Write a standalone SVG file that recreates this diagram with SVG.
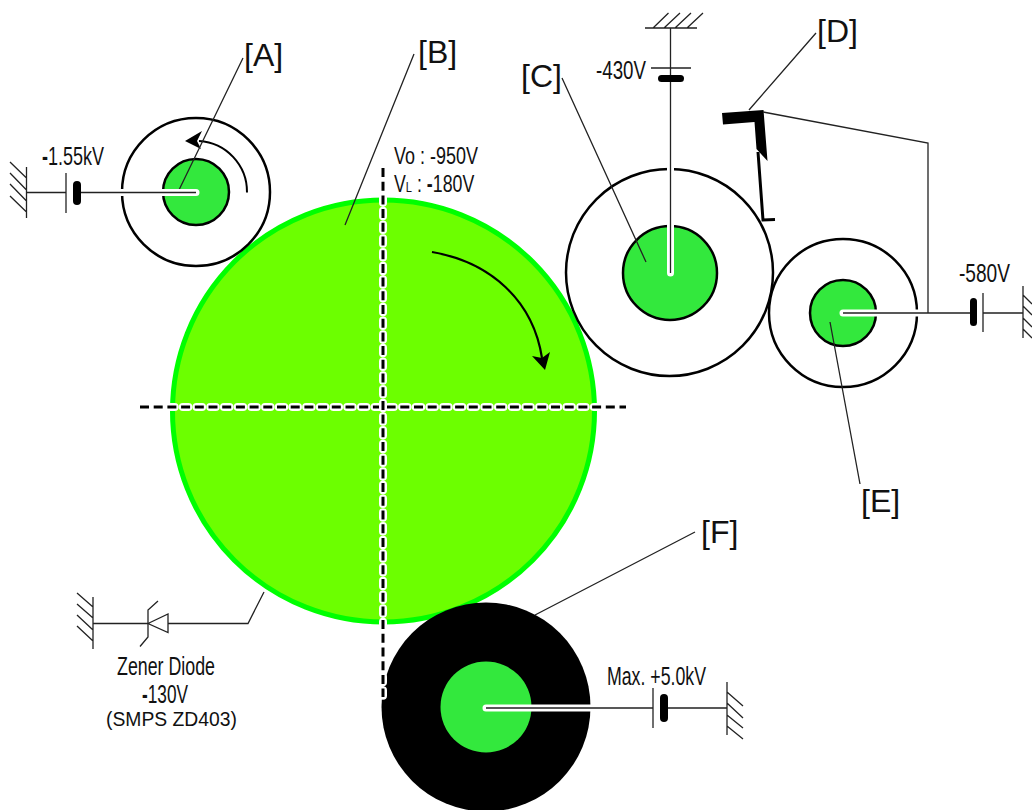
<svg xmlns="http://www.w3.org/2000/svg" width="1032" height="810" viewBox="0 0 1032 810">
<style>
text{font-family:"Liberation Sans",Arial,sans-serif;fill:#111}
.lab{font-size:32px}
.v{font-size:25px}
.b{font-weight:bold}
.ring{fill:#fff;stroke:#000;stroke-width:2.5}
.core{fill:#33e83d;stroke:#000;stroke-width:2.5}
.thin{fill:none;stroke:#222;stroke-width:1.3}
.stem{fill:none;stroke:#fff;stroke-width:7;stroke-linecap:round}
.pill{fill:#000}
.dashW{fill:none;stroke:#fff;stroke-width:8;stroke-linecap:round;stroke-dasharray:5.500 8.200;stroke-dashoffset:-1.750}
.dashK{fill:none;stroke:#000;stroke-width:3;stroke-dasharray:9 4.700}
</style>
<rect width="1032" height="810" fill="#fff"/>
<g id="drum-B">
<circle cx="383.500" cy="411" r="211" fill="#6cff00" stroke="#00ff00" stroke-width="5"/>
<path d="M432 252C490 262 533 300 542 358" fill="none" stroke="#000" stroke-width="2.200"/>
<path d="M545 370L532 356L542 358L550 352Z" fill="#000"/>
</g>
<g id="roller-A">
<circle class="ring" cx="196" cy="192" r="74"/>
<circle class="core" cx="196" cy="192" r="33"/>
<path d="M247 192.500A51 51 0 0 0 199 141" fill="none" stroke="#000" stroke-width="2"/>
<path d="M185 141L202 131L197 141L201 149Z" fill="#000"/>
</g>
<g id="roller-C">
<circle class="ring" cx="669.500" cy="272.500" r="103.500"/>
<circle class="core" cx="670" cy="273" r="47"/>
</g>
<g id="roller-E">
<circle class="ring" cx="843" cy="313" r="74"/>
<circle class="core" cx="843" cy="313" r="33"/>
</g>
<g id="roller-F">
<circle cx="486" cy="707" r="104.500" fill="#000"/>
<circle cx="486" cy="707" r="45.500" fill="#33e83d"/>
</g>
<g id="blade-D">
<path d="M722 113L763.500 110L767.500 161L756.500 149L754.500 122L723 124.500Z" fill="#000"/>
<path d="M758 152L763 220L775 219.500" fill="none" stroke="#000" stroke-width="3"/>
</g>
<g id="connectors">
<path class="dashW" d="M140 407H626"/><path class="dashK" d="M140 407H626"/>
<path class="dashW" d="M383 168V697"/><path class="dashK" d="M383 168V697"/>
<path class="thin" d="M243 58L178 192M414 54L345 225M562 78L646 262M816 33L749 110M860 484L830 322M695 532L535 615"/>
<path class="thin" d="M763 112L928 143V313"/>
<path class="stem" d="M118 192.500H196M670.500 165V273M843 313H921M486 708H592"/>
<path class="thin" d="M26 192.500H66M81 192.500H196"/>
<path class="thin" d="M66 173V213"/>
<rect class="pill" x="73" y="181" width="8" height="24" rx="4"/>
<path class="thin" d="M26.500 167V218M10 162L26.500 178M10 173L26.500 190M10 184L26.500 201M10 196L26.500 212"/>
<path class="thin" d="M670.500 28V273M645 28H697M653 28L668.500 13M664 28L680 13M675 28L691 13M687 28L703 13M651 68H691"/>
<rect class="pill" x="658" y="75" width="26" height="7" rx="3.500"/>
<path class="thin" d="M843 313H970M983 313H1023M983 293V332M1023 286V338M1023 295L1032 304M1023 306L1032 315M1023 318L1032 327M1023 329L1032 338"/>
<rect class="pill" x="970" y="298" width="7" height="28" rx="3.500"/>
<path class="thin" d="M486 708H653M668 708H727M653 688V728M727 682V735M727 692L743 706M727 703L743 718M727 715L743 728M727 726L743 739"/>
<rect class="pill" x="660" y="694" width="8" height="28" rx="4"/>
<path class="thin" d="M264 592L248 623.500H168M148 623.500H93M93 597V649M77 593L93 607M77 604L93 618M77 615L93 630M77 626L93 641"/>
<path class="thin" d="M148 623.500L168 614V632.500Z"/>
<path class="thin" d="M158 601L148 610V637L140 646.500"/>
</g>
<g id="labels">
<text class="lab" x="244" y="66">[A]</text>
<text class="lab" x="418" y="63">[B]</text>
<text class="lab" x="521" y="87">[C]</text>
<text class="lab" x="817" y="42">[D]</text>
<text class="lab" x="861" y="512">[E]</text>
<text class="lab" x="701" y="543">[F]</text>
<text class="v" transform="translate(42 165) scale(.72 1)"><tspan class="b">-</tspan>1.55kV</text>
<text class="v" x="596" y="79" textLength="50" lengthAdjust="spacingAndGlyphs">-430V</text>
<text class="v" x="959" y="282" textLength="51" lengthAdjust="spacingAndGlyphs">-580V</text>
<text class="v" x="607" y="685" textLength="99" lengthAdjust="spacingAndGlyphs">Max. +5.0kV</text>
<text x="394" y="164" style="font-size:24px" textLength="84" lengthAdjust="spacingAndGlyphs">Vo : -950V</text>
<text transform="translate(394 192) scale(.74 1)" style="font-size:24px">V<tspan style="font-size:15px">L</tspan> : <tspan class="b">-</tspan>180V</text>
<text class="v" x="117" y="675" textLength="98" lengthAdjust="spacingAndGlyphs">Zener Diode</text>
<text class="v" transform="translate(142 703) scale(.69 1)"><tspan class="b">-</tspan>130V</text>
<text x="106" y="726" style="font-size:20px" textLength="131" lengthAdjust="spacingAndGlyphs">(SMPS ZD403)</text>
</g>
</svg>
